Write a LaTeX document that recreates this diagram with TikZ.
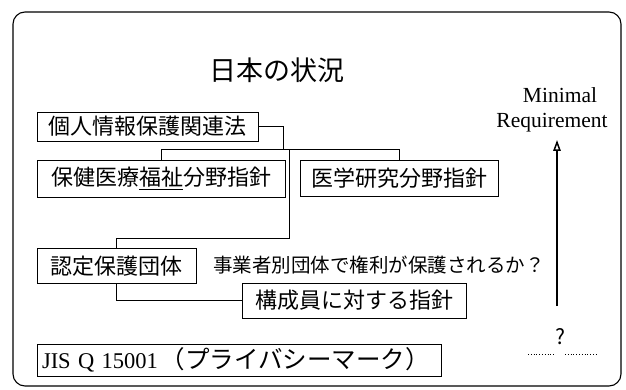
\documentclass[tikz,border=0pt]{standalone}
\usepackage{fontspec}
\setmainfont{Liberation Serif}
\newfontfamily\jp{Noto Sans CJK JP}
\usetikzlibrary{arrows.meta}
\begin{document}
\begin{tikzpicture}[x=1pt,y=-1pt,
  box/.style={draw, line width=0.8pt, inner sep=0pt, font=\jp\fontsize{22}{24}\selectfont},
  conn/.style={line width=0.8pt},
  lat/.style={font=\fontsize{21.5}{23}\selectfont, inner sep=0pt}]
\useasboundingbox (0,0) rectangle (626,390);
\draw[line width=1.1pt, rounded corners=12pt] (13,12) rectangle (621,386);
\node[font=\jp\fontsize{27}{29}\selectfont, inner sep=0pt] (T) at (277,70) {日本の状況};
\node[box, minimum width=221pt, minimum height=29pt] (A) at (147.5,126.5) {個人情報保護関連法};
\node[box, minimum width=248pt, minimum height=37pt] (B) at (161,178.5) {保健医療\underline{福祉}分野指針};
\node[box, minimum width=198pt, minimum height=36pt] (C) at (399,178) {医学研究分野指針};
\node[box, minimum width=159pt, minimum height=35pt] (D) at (116.5,266) {認定保護団体};
\node[box, minimum width=224pt, minimum height=35pt] (E) at (354,300.5) {構成員に対する指針};
\node[box, text width=394pt, inner xsep=5pt, minimum height=32pt, align=left] (F) at (239,360)
  {{\fontsize{22.5}{24}\selectfont\rmfamily JIS Q 15001}\hspace{3pt}{\fontsize{24.5}{25}\selectfont （プライバシーマーク）}};
\node[font=\jp\fontsize{19.5}{21}\selectfont, inner sep=0pt] (Q) at (379,265) {事業者別団体で権利が保護されるか？};
\node[lat] (M) at (560,95) {Minimal};
\node[lat] (R) at (552,123) {Requirement};
\node[font=\jp\fontsize{21}{22}\selectfont, inner sep=0pt] (q) at (560,337) {?};
\coordinate (j1) at (283,150);
\coordinate (j2) at (289,150);
\coordinate (k) at (289,238);
\draw[conn] (A.east) -| (j1);
\draw[conn] (B.north) -- ++(0,-10) -| (C.north);
\draw[conn] (j2) -- (k) -| (D.north);
\draw[conn] (D.south) |- (E.west);
\coordinate (ab) at (557,306);
\coordinate (at) at (557,140);
\draw[line width=1.5pt, -{Triangle[open,length=11pt,width=7.5pt]}] (ab) -- (at);
\coordinate (d1) at (528,354);
\coordinate (d2) at (554,354);
\coordinate (d3) at (565,354);
\coordinate (d4) at (598,354);
\draw[line width=0.8pt, dotted] (d1) -- (d2);
\draw[line width=0.8pt, dotted] (d3) -- (d4);
\end{tikzpicture}
\end{document}
